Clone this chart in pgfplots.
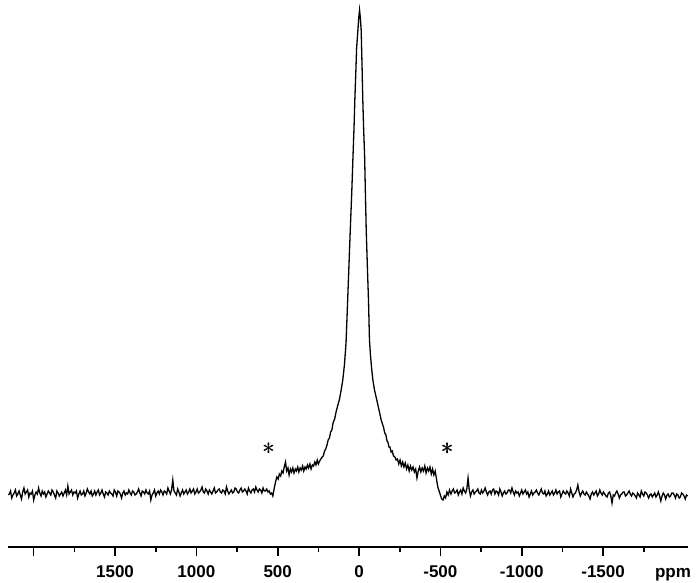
\documentclass[border=0pt]{standalone}
\usepackage{fontspec}
\setmainfont{Liberation Sans}
\usepackage{pgfplots}
\pgfplotsset{compat=1.18}

\begin{document}
\begin{tikzpicture}
\begin{axis}[
    scale only axis,
    width=680bp, height=547bp,
    x dir=reverse,
    xmin=-2022, xmax=2158,
    ymin=-54, ymax=493,
    axis y line=none,
    axis x line*=bottom,
    axis line style={line width=1.6bp, -},
    xtick={-1500,-1000,-500,0,500,1000,1500,2000},
    xticklabels={-1500,-1000,-500,0,500,1000,1500,{}},
    minor xtick={-1750,-1250,...,1750},
    tick align=outside,
    major tick length=9bp,
    minor tick length=5bp,
    tick style={black, line width=1.6bp},
    xticklabel shift=9bp,
    xticklabel style={font=\fontsize{17bp}{20bp}\selectfont\bfseries, inner sep=0pt,
        text height=12.5bp, text depth=3.5bp},
    clip=false,
]
\addplot[black, line width=1.3bp] coordinates {
(2156,-2)(2150,-1)(2142.5,2)(2135,-5)(2127.5,-2)(2120,0)(2112.5,3)(2105,-3)(2097.5,-1)(2090,2)(2082.5,-2)
(2075,-6)(2067.5,1)(2060,5)(2052.5,-1)(2045,1)(2037.5,3)(2030,-4)(2022.5,0)(2015,-1)(2007.5,2)
(2000,-7)(1992.5,-2)(1985,1)(1977.5,-1)(1970,5)(1962.5,0)(1955,-3)(1947.5,2)(1940,-1)(1932.5,1)
(1925,-4)(1917.5,-1)(1910,2)(1902.5,0)(1895,-2)(1887.5,3)(1880,1)(1872.5,-2)(1865,-5)(1857.5,2)
(1850,0)(1842.5,-3)(1835,-1)(1827.5,1)(1820,-3)(1812.5,0)(1805,3)(1797.5,-2)(1790,7)(1782.5,-1)
(1775,1)(1767.5,3)(1760,-2)(1752.5,1)(1745,0)(1737.5,2)(1730,-5)(1722.5,-1)(1715,2)(1707.5,-2)
(1700,-1)(1692.5,2)(1685,-3)(1677.5,0)(1670,4)(1662.5,1)(1655,-1)(1647.5,2)(1640,-3)(1632.5,-1)
(1625,2)(1617.5,-2)(1610,1)(1602.5,3)(1595,-2)(1587.5,0)(1580,3)(1572.5,-1)(1565,-4)(1557.5,1)
(1550,0)(1542.5,-2)(1535,2)(1527.5,0)(1520,-1)(1512.5,-3)(1505,3)(1497.5,1)(1490,-3)(1482.5,2)
(1475,1)(1467.5,-1)(1460,-5)(1452.5,0)(1445,2)(1437.5,-2)(1430,0)(1422.5,-1)(1415,3)(1407.5,0)
(1400,-2)(1392.5,2)(1385,1)(1377.5,-2)(1370,-1)(1362.5,1)(1355,4)(1347.5,0)(1340,-3)(1332.5,2)
(1325,1)(1317.5,-1)(1310,3)(1302.5,0)(1295,-1)(1287.5,2)(1280,-7)(1272.5,-2)(1265,0)(1257.5,3)
(1250,-3)(1242.5,0)(1235,2)(1227.5,-1)(1220,3)(1212.5,1)(1205,-2)(1197.5,2)(1190,1)(1182.5,-1)
(1175,5)(1167.5,2)(1160,-1)(1152.5,3)(1145,13)(1137.5,2)(1130,0)(1122.5,-2)(1115,4)(1107.5,1)
(1100,-3)(1092.5,0)(1085,3)(1077.5,-1)(1070,1)(1062.5,3)(1055,-1)(1047.5,1)(1040,4)(1032.5,0)
(1025,2)(1017.5,4)(1010,-1)(1002.5,1)(995,4)(987.5,0)(980,1)(972.5,3)(965,6)(957.5,1)
(950,0)(942.5,4)(935,2)(927.5,-1)(920,3)(912.5,1)(905,-1)(897.5,2)(890,5)(882.5,0)
(875,1)(867.5,3)(860,4)(852.5,1)(845,0)(837.5,3)(830,2)(822.5,-1)(815,6)(807.5,2)
(800,-1)(792.5,1)(785,3)(777.5,0)(770,1)(762.5,5)(755,4)(747.5,1)(740,0)(732.5,3)
(725,5)(717.5,1)(710,2)(702.5,4)(695,2)(687.5,-1)(680,5)(672.5,2)(665,0)(657.5,3)
(650,4)(642.5,1)(635,6)(627.5,3)(620,1)(612.5,4)(605,3)(597.5,0)(590,5)(582.5,2)
(575,2)(567.5,4)(560,1)(552.5,2)(545,-1)(537.5,0)
(530,-3)(520,6)(512,12)(505,16)(497,14)(490,19)(482,17)(475,22)(467,20)(460,26)
(452,31)(445,22)(437,25)(430,18)(422,24)(415,21)(407,25)(400,20)(392,24)(385,22)
(377,26)(370,21)(362,25)(355,23)(347,27)(340,22)(332,26)(325,24)(317,28)(310,25)
(302,29)(295,24)(287,28)(280,27)(272,31)(265,28)(257,33)(250,29)(242,32)(235,34)
(227,36)(220,37)(212,42)(205,44)(197,48)(190,53)(182,55)(175,61)(167,63)(160,70)
(150,74)(140,82)(130,88)(120,94)(110,103)(100,113)(90,128)(80,150)(70,193)(62,228)
(54,263)(45,300)(37,338)(31,365)(26,393)(20,420)(15,445)(7,463)(2,475)(-3,483)
(-8,475)(-13,463)(-18,430)(-23,393)(-28,365)(-34,338)(-39,300)(-44,263)(-52,222)(-58,193)
(-64,153)(-70,138)(-77,125)(-85,113)(-95,103)(-109,93)(-120,85)(-136,73)(-150,66)(-158,60)
(-165,58)(-172,52)(-177,51)(-184,46)(-190,46)(-197,41)(-204,42)(-212,37)(-220,36)(-228,33)
(-236,34)(-244,29)(-252,33)(-260,27)(-268,31)(-276,26)(-284,30)(-292,24)(-300,28)(-308,22)
(-316,27)(-324,23)(-332,26)(-340,21)(-348,24)(-356,15)(-364,22)(-372,26)(-380,21)(-388,25)
(-396,22)(-404,27)(-412,20)(-420,25)(-428,22)(-436,26)(-444,19)(-452,24)(-460,18)(-468,22)
(-476,14)(-484,6)(-492,2)(-500,-2)(-508,-6)(-516,-7)(-524,-3)(-532,-5)(-540,1)(-548,-2)
(-556,3)
(-565,-1)(-572.5,2)(-580,4)(-587.5,0)(-595,1)(-602.5,3)(-610,-2)(-617.5,1)(-625,3)(-632.5,-1)
(-640,5)(-647.5,2)(-655,0)(-662.5,4)(-670,15)(-677.5,3)(-685,-3)(-692.5,1)(-700,3)(-707.5,-1)
(-715,1)(-722.5,2)(-730,4)(-737.5,0)(-745,-1)(-752.5,3)(-760,0)(-767.5,2)(-775,5)(-782.5,1)
(-790,-2)(-797.5,1)(-805,2)(-812.5,-1)(-820,3)(-827.5,4)(-835,-1)(-842.5,2)(-850,1)(-857.5,-2)
(-865,4)(-872.5,1)(-880,-3)(-887.5,0)(-895,2)(-902.5,-1)(-910,0)(-917.5,3)(-925,3)(-932.5,0)
(-940,5)(-947.5,1)(-955,-2)(-962.5,2)(-970,0)(-977.5,1)(-985,-3)(-992.5,0)(-1000,3)(-1007.5,-1)
(-1015,1)(-1022.5,3)(-1030,-1)(-1037.5,1)(-1045,-4)(-1052.5,-1)(-1060,2)(-1067.5,-2)(-1075,0)(-1082.5,1)
(-1090,3)(-1097.5,0)(-1105,-2)(-1112.5,1)(-1120,4)(-1127.5,0)(-1135,-1)(-1142.5,2)(-1150,-3)(-1157.5,-1)
(-1165,2)(-1172.5,-2)(-1180,0)(-1187.5,2)(-1195,-2)(-1202.5,0)(-1210,3)(-1217.5,-1)(-1225,1)(-1232.5,2)
(-1240,-4)(-1247.5,-1)(-1255,2)(-1262.5,0)(-1270,-1)(-1277.5,2)(-1285,0)(-1292.5,-3)(-1300,4)(-1307.5,0)
(-1315,-4)(-1322.5,-1)(-1330,0)(-1337.5,3)(-1345,8)(-1352.5,1)(-1360,-3)(-1367.5,0)(-1375,2)(-1382.5,-1)
(-1390,-2)(-1397.5,1)(-1405,-1)(-1412.5,-3)(-1420,-6)(-1427.5,-1)(-1435,1)(-1442.5,-2)(-1450,0)(-1457.5,2)
(-1465,-3)(-1472.5,-1)(-1480,3)(-1487.5,0)(-1495,-2)(-1502.5,1)(-1510,-1)(-1517.5,-3)(-1525,-4)(-1532.5,0)
(-1540,1)(-1547.5,-3)(-1555,-10)(-1562.5,-2)(-1570,-3)(-1577.5,0)(-1585,2)(-1592.5,-1)(-1600,-5)(-1607.5,-2)
(-1615,-1)(-1622.5,1)(-1630,1)(-1637.5,-3)(-1645,-2)(-1652.5,0)(-1660,2)(-1667.5,-1)(-1675,-3)(-1682.5,0)
(-1690,-1)(-1697.5,-3)(-1705,-5)(-1712.5,0)(-1720,-2)(-1727.5,-4)(-1735,2)(-1742.5,-1)(-1750,-3)(-1757.5,1)
(-1765,0)(-1772.5,-2)(-1780,-5)(-1787.5,-2)(-1795,-1)(-1802.5,-4)(-1810,-2)(-1817.5,0)(-1825,-4)(-1832.5,-2)
(-1840,1)(-1847.5,-3)(-1855,-8)(-1862.5,-3)(-1870,0)(-1877.5,-2)(-1885,-6)(-1892.5,-2)(-1900,-1)(-1907.5,-4)
(-1915,-3)(-1922.5,0)(-1930,0)(-1937.5,-2)(-1945,-5)(-1952.5,-1)(-1960,-2)(-1967.5,-5)(-1975,-4)(-1982.5,0)
(-1990,-1)(-1997.5,-3)(-2005,-6)(-2012.5,-2)(-2020,-3)
};
% sideband markers, drawn twice with a small offset to look heavier
\node[font=\fontsize{32bp}{32bp}\selectfont] at (axis cs:558,44) {$\ast$};
\node[font=\fontsize{32bp}{32bp}\selectfont, xshift=0.6bp] at (axis cs:558,44) {$\ast$};
\node[font=\fontsize{32bp}{32bp}\selectfont] at (axis cs:-540,44) {$\ast$};
\node[font=\fontsize{32bp}{32bp}\selectfont, xshift=0.6bp] at (axis cs:-540,44) {$\ast$};
\node[anchor=base, font=\fontsize{17bp}{20bp}\selectfont\bfseries, inner sep=0pt,
    yshift=-30bp] at (axis description cs:0.978,0) {ppm};
\end{axis}
\pgfresetboundingbox
\path (-8bp,-36bp) rectangle (692bp,547bp);
\end{tikzpicture}
\end{document}
